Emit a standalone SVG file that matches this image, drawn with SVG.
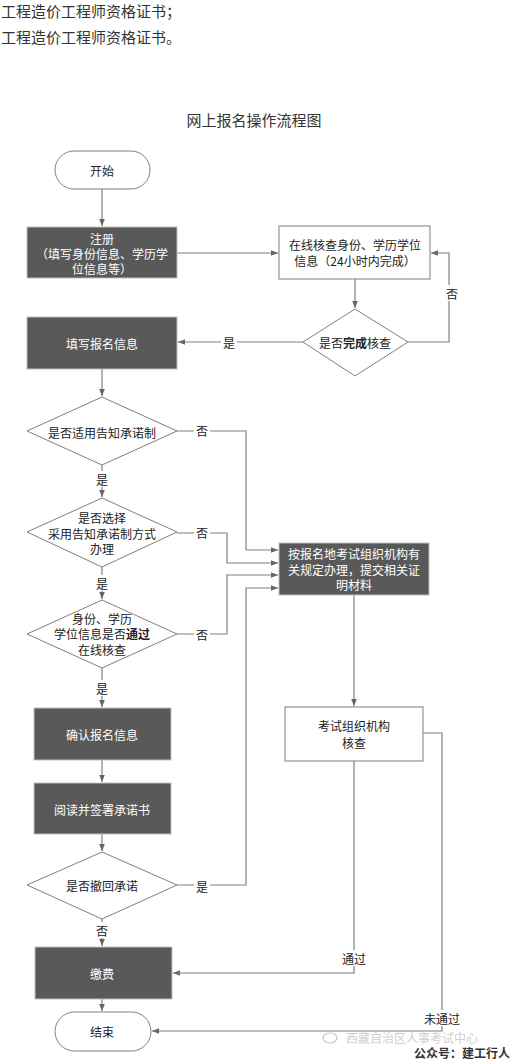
<svg xmlns="http://www.w3.org/2000/svg" width="516" height="1059" viewBox="0 0 516 1059">
<style>
text{font-family:"Noto Sans CJK SC","Liberation Sans",sans-serif;font-size:12px;fill:#222;text-anchor:middle;dominant-baseline:central}
.dark{fill:#595959;stroke:#bfbfbf;stroke-width:1}
.light{fill:#fff;stroke:#7f7f7f;stroke-width:1}
.dt{fill:#fff}
.c{fill:none;stroke:#808080;stroke-width:1.2}
.lb{fill:#fff}
.top{font-size:15px;text-anchor:start;fill:#333;dominant-baseline:auto}
</style>
<defs>
<marker id="ah" viewBox="0 0 10 10" refX="10" refY="5" markerWidth="7" markerHeight="7" orient="auto" markerUnits="userSpaceOnUse">
<path d="M0,1 L10,5 L0,9 z" fill="#666"/>
</marker>
</defs>
<rect width="516" height="1059" fill="#fff"/>
<text class="top" x="1" y="17">工程造价工程师资格证书；</text>
<text class="top" x="1" y="43">工程造价工程师资格证书。</text>
<text x="254" y="119" style="font-size:15px;fill:#333">网上报名操作流程图</text>

<g id="connectors">
<path class="c" d="M102,189 V226" marker-end="url(#ah)"/>
<path class="c" d="M177,253 H278" marker-end="url(#ah)"/>
<path class="c" d="M355,279 V308" marker-end="url(#ah)"/>
<path class="c" d="M408,342 H449 V253 H431" marker-end="url(#ah)"/>
<path class="c" d="M303,342 H178" marker-end="url(#ah)"/>
<path class="c" d="M102,369 V396" marker-end="url(#ah)"/>
<path class="c" d="M177,431 H246 V550 H278" marker-end="url(#ah)"/>
<path class="c" d="M102,465 V497" marker-end="url(#ah)"/>
<path class="c" d="M177,533 H227 V563 H278" marker-end="url(#ah)"/>
<path class="c" d="M102,567 V599" marker-end="url(#ah)"/>
<path class="c" d="M177,634 H227 V575 H278" marker-end="url(#ah)"/>
<path class="c" d="M102,668 V707" marker-end="url(#ah)"/>
<path class="c" d="M102,760 V782" marker-end="url(#ah)"/>
<path class="c" d="M102,834 V851" marker-end="url(#ah)"/>
<path class="c" d="M177,885 H246 V588 H278" marker-end="url(#ah)"/>
<path class="c" d="M102,919 V946" marker-end="url(#ah)"/>
<path class="c" d="M102,999 V1011" marker-end="url(#ah)"/>
<path class="c" d="M354,595 V706" marker-end="url(#ah)"/>
<path class="c" d="M354,761 V973 H173" marker-end="url(#ah)"/>
<path class="c" d="M423,733 H442 V1031 H152" marker-end="url(#ah)"/>
<rect class="lb" x="444" y="285" width="16" height="16"/><text x="452" y="293">否</text>
<rect class="lb" x="221" y="334" width="16" height="16"/><text x="229" y="342">是</text>
<rect class="lb" x="194" y="423" width="16" height="16"/><text x="202" y="430">否</text>
<rect class="lb" x="94" y="471" width="16" height="16"/><text x="102" y="479">是</text>
<rect class="lb" x="194" y="525" width="16" height="16"/><text x="202" y="532">否</text>
<rect class="lb" x="94" y="575" width="16" height="16"/><text x="102" y="583">是</text>
<rect class="lb" x="194" y="626" width="16" height="16"/><text x="202" y="634">否</text>
<rect class="lb" x="94" y="680" width="16" height="16"/><text x="102" y="688">是</text>
<rect class="lb" x="194" y="878" width="16" height="16"/><text x="202" y="886">是</text>
<rect class="lb" x="94" y="922" width="16" height="16"/><text x="102" y="930">否</text>
<rect class="lb" x="340" y="950" width="28" height="16"/><text x="354" y="958">通过</text>
<rect class="lb" x="422" y="1010" width="40" height="16"/><text x="442" y="1018">未通过</text>
</g>

<g id="start"><rect class="light" x="55" y="151" width="95" height="38" rx="19"/><text x="102" y="170">开始</text></g>
<g id="register"><rect class="dark" x="27" y="227" width="150" height="51"/>
<text class="dt" x="102" y="238">注册</text><text class="dt" x="102" y="253">（填写身份信息、学历学</text><text class="dt" x="102" y="268">位信息等）</text></g>
<g id="onlinecheck"><rect class="light" x="279" y="226" width="151" height="53"/>
<text x="355" y="244">在线核查身份、学历学位</text><text x="355" y="260">信息（24小时内完成）</text></g>
<g id="checkdone"><polygon class="light" points="355,309 408,342 355,376 303,342"/>
<text x="355" y="342">是否<tspan font-weight="bold">完成</tspan>核查</text></g>
<g id="fillinfo"><rect class="dark" x="27" y="317" width="150" height="52"/><text class="dt" x="102" y="343">填写报名信息</text></g>
<g id="d-promise"><polygon class="light" points="102,397 177,431 102,465 27,431"/><text x="102" y="432">是否适用告知承诺制</text></g>
<g id="d-choose"><polygon class="light" points="102,498 177,532 102,567 27,532"/>
<text x="102" y="517">是否选择</text><text x="102" y="533">采用告知承诺制方式</text><text x="102" y="548">办理</text></g>
<g id="d-pass"><polygon class="light" points="102,600 177,634 102,668 27,634"/>
<text x="102" y="618">身份、学历</text><text x="102" y="633">学位信息是否<tspan font-weight="bold">通过</tspan></text><text x="102" y="649">在线核查</text></g>
<g id="submit"><rect class="dark" x="279" y="543" width="150" height="52"/>
<text class="dt" x="354" y="553">按报名地考试组织机构有</text><text class="dt" x="354" y="569">关规定办理，提交相关证</text><text class="dt" x="354" y="584">明材料</text></g>
<g id="confirm"><rect class="dark" x="34" y="708" width="137" height="52"/><text class="dt" x="102" y="734">确认报名信息</text></g>
<g id="read"><rect class="dark" x="34" y="783" width="137" height="51"/><text class="dt" x="102" y="809">阅读并签署承诺书</text></g>
<g id="d-withdraw"><polygon class="light" points="102,852 177,885 102,919 27,885"/><text x="102" y="885">是否撤回承诺</text></g>
<g id="exam"><rect class="light" x="285" y="707" width="138" height="54"/>
<text x="354" y="725">考试组织机构</text><text x="354" y="742">核查</text></g>
<g id="pay"><rect class="dark" x="35" y="947" width="137" height="52"/><text class="dt" x="102" y="973">缴费</text></g>
<g id="end"><rect class="light" x="55" y="1012" width="96" height="39" rx="19.5"/><text x="102" y="1031">结束</text></g>

<g id="watermark">
<ellipse cx="330" cy="1038" rx="7" ry="5" fill="none" stroke="#c8c8c8" stroke-width="1.2"/>
<text x="412" y="1037" style="fill:#cfcfcf;font-size:12px">西藏自治区人事考试中心</text>
<text x="462" y="1052" style="fill:#333;font-size:12px;font-weight:bold">公众号：建工行人</text>
</g>
</svg>
